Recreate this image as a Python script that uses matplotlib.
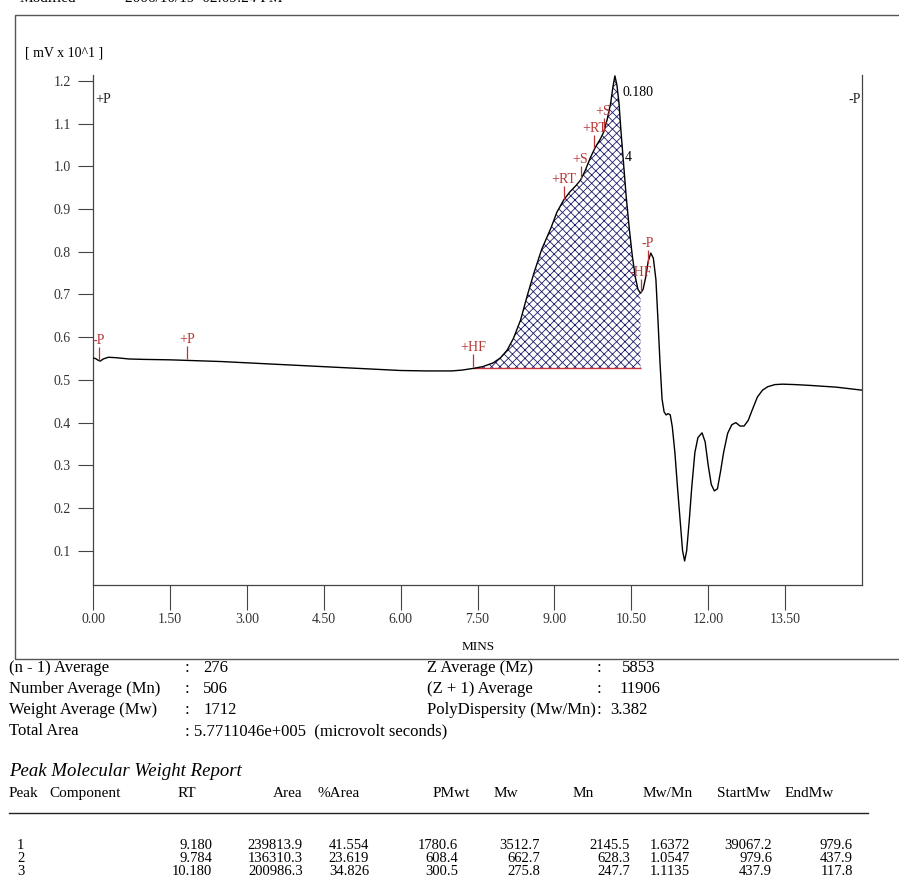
import numpy as np
import matplotlib
matplotlib.use('Agg')
import matplotlib.pyplot as plt
from matplotlib.patches import Rectangle

plt.rcParams['font.family'] = ['Liberation Serif', 'DejaVu Serif']
plt.rcParams['hatch.linewidth'] = 0.6

W, H = 899, 888  # output size in px

# chromatogram trace : time (min) / signal (mV x 10^1)
t = [0.00, 0.05, 0.10, 0.14, 0.20, 0.30, 0.45, 0.70, 1.00, 1.50, 2.00, 2.50,
     3.00, 3.50, 4.00, 4.50, 5.00, 5.50, 6.00, 6.50, 7.00, 7.20, 7.42,
     7.60, 7.81, 7.95, 8.08, 8.20, 8.34, 8.47, 8.60, 8.75, 8.93, 9.05, 9.18,
     9.30, 9.42, 9.51, 9.60, 9.70, 9.80, 9.90, 9.96, 10.03, 10.10, 10.14,
     10.18, 10.22, 10.26, 10.30, 10.34, 10.40, 10.46, 10.52, 10.58, 10.63,
     10.68, 10.73, 10.78, 10.83, 10.88, 10.93, 10.98, 11.02, 11.06, 11.10,
     11.14, 11.18, 11.22, 11.26, 11.30, 11.35, 11.40, 11.46, 11.50, 11.54,
     11.58, 11.63, 11.68, 11.74, 11.80, 11.88, 11.94, 12.00, 12.06, 12.12,
     12.18, 12.24, 12.30, 12.38, 12.46, 12.54, 12.62, 12.70, 12.78, 12.86,
     12.96, 13.06, 13.16, 13.30, 13.45, 13.70, 14.00, 14.50, 15.00]
mv = [0.551, 0.550, 0.546, 0.544, 0.549, 0.553, 0.552, 0.549, 0.548, 0.547,
      0.545, 0.543, 0.540, 0.537, 0.534, 0.531, 0.528, 0.525, 0.522, 0.521,
      0.521, 0.523, 0.527,
      0.531, 0.540, 0.552, 0.570, 0.597, 0.640, 0.697, 0.750, 0.805, 0.855,
      0.893, 0.921, 0.940, 0.955, 0.968, 0.990, 1.020, 1.045, 1.065, 1.080,
      1.110, 1.150, 1.185, 1.212, 1.190, 1.148, 1.080, 1.020, 0.930, 0.855,
      0.790, 0.740, 0.712, 0.703, 0.712, 0.740, 0.778, 0.797, 0.785, 0.735,
      0.640, 0.540, 0.455, 0.425, 0.418, 0.421, 0.418, 0.390, 0.330, 0.250,
      0.160, 0.100, 0.076, 0.100, 0.170, 0.250, 0.330, 0.365, 0.376, 0.355,
      0.300, 0.255, 0.240, 0.245, 0.285, 0.330, 0.375, 0.395, 0.400, 0.392,
      0.392, 0.405, 0.430, 0.460, 0.476, 0.484, 0.489, 0.490, 0.489, 0.487,
      0.483, 0.476]

# integrated region
hf_start = 7.42
hf_end = 10.68
base_level = 0.527

# timed events written on the trace
ev_label = ['-P', '+P', '+HF', '+RT', '+S', '+RT', '+S', '-HF', '-P']
ev_time = [0.12, 1.84, 7.42, 9.18, 9.51, 9.78, 9.96, 10.68, 10.82]

xticks = [0.0, 1.5, 3.0, 4.5, 6.0, 7.5, 9.0, 10.5, 12.0, 13.5]
yticks = [0.1, 0.2, 0.3, 0.4, 0.5, 0.6, 0.7, 0.8, 0.9, 1.0, 1.1, 1.2]

stats_left = ['(n - 1) Average', 'Number Average (Mn)', 'Weight Average (Mw)']
stats_left_val = ['276', '506', '1712']
total_area = '5.7711046e+005'
stats_right = ['Z Average (Mz)', '(Z + 1) Average', 'PolyDispersity (Mw/Mn)']
stats_right_val = ['5853', '11906', '3.382']

tbl_head = ['Peak', 'Component', 'RT', 'Area', '%Area', 'PMwt', 'Mw', 'Mn',
            'Mw/Mn', 'StartMw', 'EndMw']
peak_no = ['1', '2', '3']
rt = ['9.180', '9.784', '10.180']
area = ['239813.9', '136310.3', '200986.3']
pct_area = ['41.554', '23.619', '34.826']
pmwt = ['1780.6', '608.4', '300.5']
mw = ['3512.7', '662.7', '275.8']
mn = ['2145.5', '628.3', '247.7']
mwmn = ['1.6372', '1.0547', '1.1135']
start_mw = ['39067.2', '979.6', '437.9']
end_mw = ['979.6', '437.9', '117.8']


def fx(px):
    return px / W


def fy(py):
    return 1 - py / H


fig = plt.figure(figsize=(W / 100, H / 100), dpi=100)

# frame around the plot area
fig.patches.append(Rectangle((fx(15), fy(659)), fx(900), fy(15) - fy(659),
                             transform=fig.transFigure, fill=False,
                             edgecolor='#555555', lw=1.0))
# header line, cut by the top of the page
fig.text(fx(20), fy(-1), 'Modified', fontsize=11, va='center')
fig.text(fx(125), fy(-1), '2006/10/19  02:09:24 PM', fontsize=11, va='center')

ax = fig.add_axes([fx(93), fy(585), fx(862) - fx(93), fy(75) - fy(585)])
ax.set_xlim(0, 15)
ax.set_ylim(0.0197, 1.214)
ymm = (1.214 - 0.0197) / 510  # data units per pixel

t = np.array(t)
mv = np.array(mv)
sel = (t >= hf_start) & (t <= hf_end)
ax.fill_between(t, base_level, mv, where=sel, facecolor='white',
                edgecolor='#1c1c6b', hatch='xxxx', linewidth=0, zorder=1)
ax.hlines(base_level, hf_start, hf_end, color='#c8323c', lw=1.0, zorder=2)
ax.plot(t, mv, color='black', lw=1.0, zorder=3)

red = '#b83636'
for lab, tm in zip(ev_label, ev_time):
    yc = np.interp(tm, t, mv)
    ax.vlines(tm, yc + ymm, yc + 14 * ymm, color=red, lw=0.9, zorder=4)
    ax.text(tm, yc + 14 * ymm, lab, color=red, fontsize=10,
            ha='center', va='bottom', zorder=5)

ax.text(0.04, 1.156, '+P', fontsize=10, ha='left', va='center', color='#222222')
ax.text(14.97, 1.156, '-P', fontsize=10, ha='right', va='center', color='#222222')
ax.text(10.33, 1.173, '0.180', fontsize=10, ha='left', va='center')
ax.text(10.38, 1.02, '4', fontsize=10, ha='left', va='center')

for s in ['left', 'right', 'bottom']:
    ax.spines[s].set_color('#444444')
    ax.spines[s].set_linewidth(0.9)
ax.spines['top'].set_visible(False)
ax.set_xticks(xticks)
ax.set_xticklabels(['%.2f' % v for v in xticks])
ax.set_yticks(yticks)
ax.set_yticklabels(['%.1f' % v for v in yticks])
ax.tick_params(axis='y', direction='out', length=11, width=0.8, pad=5,
               colors='#444444', labelcolor='#333333', labelsize=10)
ax.tick_params(axis='x', direction='out', length=18, width=0.8, pad=2,
               colors='#444444', labelcolor='#333333', labelsize=10)

fig.text(fx(25), fy(53), '[ mV x 10^1 ]', fontsize=10, va='center')
fig.text(fx(478), fy(647), 'MINS', fontsize=9.5, ha='center', va='center')

# summary results
row_y = [668, 689, 710, 731]
for i in range(3):
    fig.text(fx(9), fy(row_y[i]), stats_left[i], fontsize=12, va='center')
    fig.text(fx(185), fy(row_y[i]), ':', fontsize=12, va='center')
    fig.text(fx(203), fy(row_y[i]), stats_left_val[i], fontsize=12, va='center')
    fig.text(fx(427), fy(row_y[i]), stats_right[i], fontsize=12, va='center')
    fig.text(fx(597), fy(row_y[i]), ':', fontsize=12, va='center')
fig.text(fx(622), fy(row_y[0]), stats_right_val[0], fontsize=12, va='center')
fig.text(fx(619), fy(row_y[1]), stats_right_val[1], fontsize=12, va='center')
fig.text(fx(610), fy(row_y[2]), stats_right_val[2], fontsize=12, va='center')
fig.text(fx(9), fy(row_y[3]), 'Total Area', fontsize=12, va='center')
fig.text(fx(185), fy(row_y[3]), ': ' + total_area + '  (microvolt seconds)',
         fontsize=12, va='center')

fig.text(fx(9), fy(771), 'Peak Molecular Weight Report', fontsize=13.5,
         style='italic', va='center')

head_x = [9, 49, 178, 273, 317, 433, 494, 573, 643, 717, 785]
for lab, x in zip(tbl_head, head_x):
    fig.text(fx(x), fy(793), lab, fontsize=11, va='center')
fig.add_artist(plt.Line2D([fx(9), fx(868)], [fy(813), fy(813)],
                          color='#222222', lw=1.0))

cols = [rt, area, pct_area, pmwt, mw, mn, mwmn, start_mw, end_mw]
col_right = [212, 303, 369, 458, 540, 630, 690, 772, 853]
tbl_y = [845, 858, 871]
for i in range(3):
    fig.text(fx(17), fy(tbl_y[i]), peak_no[i], fontsize=10.5, va='center')
    for col, xr in zip(cols, col_right):
        fig.text(fx(xr), fy(tbl_y[i]), col[i], fontsize=10.5, ha='right',
                 va='center')

fig.savefig('out.png', dpi=100, facecolor='white')
